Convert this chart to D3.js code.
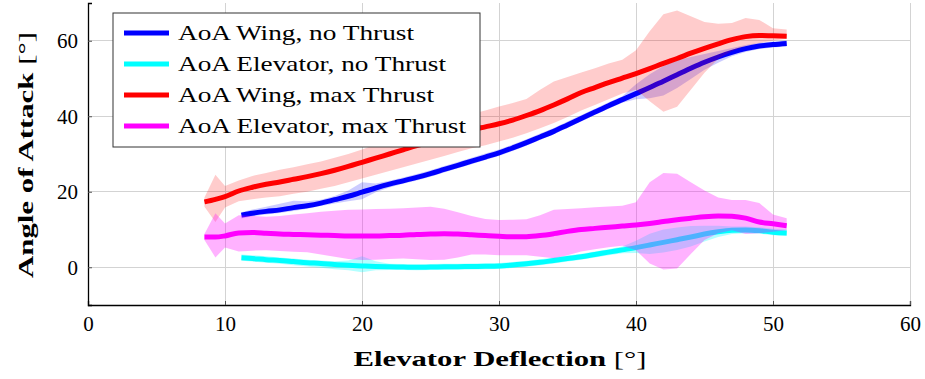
<!DOCTYPE html>
<html>
<head>
<meta charset="utf-8">
<script src="https://cdn.jsdelivr.net/npm/d3@7"></script>
<style>
  html, body { margin: 0; padding: 0; background: #fff; }
  svg { display: block; }
  text { font-family: "Liberation Serif", "Times New Roman", serif; fill: #000; }
</style>
</head>
<body>
<svg id="chart" width="925" height="379"></svg>
<script>
// Elevator deflection sample points (degrees)
const xWingMax = [8.5, 9.3, 10, 11, 12, 13, 14, 15, 16, 17, 18, 19, 20, 21, 22, 23, 24, 25, 26, 27, 28, 29, 30,
  31, 32, 33, 34, 35, 36, 37, 38, 39, 40, 41, 42, 43, 44, 45, 46, 47, 48, 49, 50, 51];
const xNoThrust = [11.2, 12, 13, 14, 15, 16, 17, 18, 19, 20, 21, 22, 23, 24, 25, 26, 27, 28, 29, 30,
  31, 32, 33, 34, 35, 36, 37, 38, 39, 40, 41, 42, 43, 44, 45, 46, 47, 48, 49, 50, 51];
const xElevMax = xWingMax;

// AoA Wing, no Thrust: mean, upper and lower envelope
const wingNo = [13.8, 14.3, 14.8, 15.2, 15.8, 16.3, 17, 17.9, 18.8, 19.9, 21, 22, 22.9, 23.8, 24.8, 25.9, 27, 28.1, 29.2, 30.3,
  31.6, 33, 34.5, 36, 37.7, 39.4, 41.1, 42.8, 44.4, 46, 47.6, 49.3, 51, 52.7, 54.3, 55.7, 56.9, 57.9, 58.6, 59, 59.3];
const wingNoHi = [14.6, 15.3, 16.0, 16.8, 17.6, 17.5, 17.9, 18.9, 20.3, 22.5, 22.2, 22.9, 23.8, 24.7, 25.7, 26.8, 27.9, 29.0, 30.1, 31.2,
  32.5, 33.9, 35.4, 36.9, 38.6, 40.3, 42.0, 43.7, 45.3, 48.5, 51.1, 53.3, 54.8, 55.7, 56.5, 57.3, 58.1, 58.9, 59.5, 59.8, 60.1];
const wingNoLo = [12.9, 13.5, 14.0, 14.4, 14.9, 15.5, 16.2, 16.9, 17.5, 18.0, 19.9, 21.1, 22.1, 23.0, 24.0, 25.1, 26.2, 27.3, 28.4, 29.5,
  30.8, 32.2, 33.7, 35.2, 36.9, 38.6, 40.3, 42.0, 43.6, 44.5, 44.8, 45.5, 47.5, 49.9, 52.3, 54.2, 55.9, 57.0, 57.8, 58.2, 58.5];

// AoA Elevator, no Thrust
const elevNo = [2.5, 2.3, 2.0, 1.8, 1.5, 1.2, 1.0, 0.7, 0.5, 0.35, 0.2, 0.1, 0.05, 0.0, 0.05, 0.1, 0.15, 0.2, 0.25, 0.35,
  0.6, 0.9, 1.3, 1.8, 2.3, 2.8, 3.4, 4.0, 4.6, 5.2, 5.9, 6.6, 7.3, 8.0, 8.8, 9.4, 9.8, 9.9, 9.7, 9.3, 9.1];
const elevNoHi = [3.4, 3.2, 2.9, 2.6, 2.3, 2.0, 1.8, 1.6, 1.8, 2.9, 1.6, 0.9, 0.85, 0.8, 0.85, 0.9, 0.95, 1.0, 1.05, 1.15,
  1.4, 1.7, 2.1, 2.6, 3.1, 3.6, 4.2, 4.8, 5.5, 7.0, 8.9, 10.0, 10.5, 10.9, 11.0, 11.0, 10.8, 10.8, 10.6, 10.2, 10.0];
const elevNoLo = [1.7, 1.5, 1.2, 0.9, 0.5, 0.2, -0.1, -0.5, -0.8, -1.3, -0.8, -0.7, -0.75, -0.8, -0.75, -0.7, -0.65, -0.6, -0.55, -0.45,
  -0.2, 0.1, 0.5, 1.0, 1.5, 2.0, 2.6, 3.2, 3.7, 3.8, 3.5, 3.9, 4.6, 5.5, 6.8, 8.0, 8.8, 9.0, 8.9, 8.5, 8.3];

// AoA Wing, max Thrust
const wingMax = [17.3, 18.0, 18.7, 20.2, 21.2, 22, 22.6, 23.3, 24, 24.8, 25.7, 26.7, 27.8, 28.9, 30, 31.1, 32.2, 33.2, 34.2, 35.3, 36.4, 37.2, 38,
  39, 40.2, 41.5, 43, 44.6, 46.3, 47.6, 48.9, 50.1, 51.3, 52.6, 54, 55.3, 56.7, 58, 59.2, 60.3, 61.1, 61.4, 61.3, 61.2];
const wingMaxHi = [18.5, 24.5, 21.5, 23, 24.2, 25, 25.8, 26.5, 27.3, 28, 29, 30, 31.2, 32.5, 33.8, 35, 36.2, 37.3, 38.5, 39.5, 40.6, 41.5, 42.6,
  43.5, 44.6, 47, 49.2, 50.4, 51.6, 52.7, 54, 55, 57.5, 62.5, 67, 68, 66.5, 65, 64.5, 64.7, 66, 65.5, 63.3, 63];
const wingMaxLo = [16, 12, 15.8, 17.5, 18, 18.5, 18.8, 19.5, 20, 20.8, 21.5, 22.5, 23.5, 24.5, 25.5, 26.5, 27.5, 28.5, 29.5, 30.5, 31.5, 32.3, 33.3,
  34.3, 35.5, 36.8, 38.2, 39.8, 41.5, 43, 44.5, 46, 47, 44, 41.2, 42.5, 47, 51.5, 55.2, 57.3, 58.6, 59.4, 60, 60.5];

// AoA Elevator, max Thrust
const elevMax = [8.0, 8.0, 8.3, 9.1, 9.2, 9.0, 8.8, 8.7, 8.6, 8.5, 8.4, 8.3, 8.3, 8.3, 8.4, 8.5, 8.7, 8.8, 8.9, 8.8, 8.6, 8.4, 8.2,
  8.05, 8.1, 8.4, 8.9, 9.5, 10.0, 10.3, 10.6, 10.9, 11.2, 11.6, 12.1, 12.6, 13.0, 13.4, 13.6, 13.5, 13.0, 12.0, 11.5, 11.0];
const elevMaxHi = [8.8, 14.3, 11.6, 13.8, 13.6, 13.4, 13.6, 14.0, 14.3, 14.7, 15.0, 15.2, 15.3, 15.4, 15.5, 15.6, 15.8, 16.0, 15.5, 14.6, 13.6, 12.8, 12.5,
  12.6, 12.7, 13.8, 15.2, 15.4, 15.6, 15.9, 16.1, 16.3, 17.2, 22.5, 25.0, 24.8, 22.5, 20.3, 18.5, 17.8, 17.8, 17.0, 14.0, 13.0];
const elevMaxLo = [7.2, 2.6, 5.2, 4.2, 4.4, 4.5, 4.3, 4.1, 4.0, 3.4, 2.8, 2.2, 1.9, 2.0, 2.2, 2.3, 2.1, 1.9, 2.0, 2.6, 3.4, 3.4, 3.2,
  3.2, 3.2, 2.8, 2.4, 3.2, 4.2, 4.8, 5.3, 5.7, 4.5, 1.0, -0.6, -0.3, 3.5, 7.2, 9.0, 9.8, 8.8, 9.0, 9.4, 9.8];

const xTicks = [0, 10, 20, 30, 40, 50, 60];
const yTicks = [0, 20, 40, 60];
const legendLabels = ["AoA Wing, no Thrust", "AoA Elevator, no Thrust", "AoA Wing, max Thrust", "AoA Elevator, max Thrust"];

// Series in drawing order (band first, then its mean line)
const series = [
  { name: legendLabels[0], color: "#0000ff", bandOpacity: 0.2, xs: xNoThrust, mean: wingNo, hi: wingNoHi, lo: wingNoLo },
  { name: legendLabels[1], color: "#00ffff", bandOpacity: 0.3, xs: xNoThrust, mean: elevNo, hi: elevNoHi, lo: elevNoLo },
  { name: legendLabels[2], color: "#ff0000", bandOpacity: 0.2, xs: xWingMax, mean: wingMax, hi: wingMaxHi, lo: wingMaxLo },
  { name: legendLabels[3], color: "#ff00ff", bandOpacity: 0.3, xs: xElevMax, mean: elevMax, hi: elevMaxHi, lo: elevMaxLo }
];

const W = 925, H = 379;
const margin = { left: 88, right: 15, top: 3, bottom: 74 };
const svg = d3.select("#chart");

const x = d3.scaleLinear().domain([0, 60]).range([margin.left, W - margin.right]);
const y = d3.scaleLinear().domain([-10, 70]).range([H - margin.bottom, margin.top]);

// grid
const grid = svg.append("g").attr("stroke", "#d3d3d3").attr("stroke-width", 1).attr("shape-rendering", "crispEdges");
grid.selectAll("line.vx").data(xTicks.filter(d => d > 0)).join("line")
  .attr("x1", d => x(d)).attr("x2", d => x(d))
  .attr("y1", y(-10)).attr("y2", y(70));
grid.selectAll("line.hy").data(yTicks).join("line")
  .attr("x1", x(0)).attr("x2", x(60))
  .attr("y1", d => y(d)).attr("y2", d => y(d));

// bands and mean lines
const plot = svg.append("g");
series.forEach(s => {
  const pts = s.xs.map((v, i) => ({ x: v, m: s.mean[i], hi: s.hi[i], lo: s.lo[i] }));
  plot.append("path")
    .datum(pts)
    .attr("fill", s.color)
    .attr("fill-opacity", s.bandOpacity)
    .attr("stroke", "none")
    .attr("d", d3.area().x(d => x(d.x)).y0(d => y(d.lo)).y1(d => y(d.hi)));
  plot.append("path")
    .datum(pts)
    .attr("fill", "none")
    .attr("stroke", s.color)
    .attr("stroke-width", 5)
    .attr("stroke-linejoin", "round")
    .attr("d", d3.line().curve(d3.curveMonotoneX).x(d => x(d.x)).y(d => y(d.m)));
});

// axes
const xAxis = svg.append("g")
  .attr("transform", `translate(0,${y(-10)})`)
  .call(d3.axisBottom(x).tickValues(xTicks).tickSize(-4).tickPadding(10).tickFormat(d3.format("d")));
const yAxis = svg.append("g")
  .attr("transform", `translate(${x(0)},0)`)
  .call(d3.axisLeft(y).tickValues(yTicks).tickSize(-4).tickPadding(10).tickFormat(d3.format("d")));
[xAxis, yAxis].forEach(a => {
  a.select(".domain").attr("stroke", "#000").attr("stroke-width", 1.3);
  a.selectAll(".tick line").attr("stroke", "#555").attr("stroke-width", 1);
  a.selectAll(".tick text").attr("font-family", "Liberation Serif, serif").attr("font-size", 21).attr("fill", "#000");
});
xAxis.selectAll(".tick text").attr("dy", "0.75em");
yAxis.selectAll(".tick text").attr("dy", "0.34em");

// axis titles
function stretched(sel, width) {
  const natural = sel.node().getComputedTextLength();
  if (natural > 0) sel.attr("textLength", width).attr("lengthAdjust", "spacingAndGlyphs");
}
const xTitle = svg.append("text")
  .attr("x", (x(0) + x(60)) / 2 + 1).attr("y", 366)
  .attr("text-anchor", "middle").attr("font-size", 22).attr("font-weight", "bold");
xTitle.append("tspan").text("Elevator Deflection ");
xTitle.append("tspan").attr("font-weight", "normal").text("[°]");
stretched(xTitle, 293);

const yTitle = svg.append("text")
  .attr("transform", `translate(33,${155}) rotate(-90)`)
  .attr("text-anchor", "middle").attr("font-size", 22).attr("font-weight", "bold");
yTitle.append("tspan").text("Angle of Attack ");
yTitle.append("tspan").attr("font-weight", "normal").text("[°]");
stretched(yTitle, 246);

// legend
const lg = svg.append("g").attr("transform", "translate(113,13)");
lg.append("rect").attr("width", 367).attr("height", 134)
  .attr("fill", "#fff").attr("stroke", "#333").attr("stroke-width", 1);
const legendWidths = [236, 268, 256, 288];
series.forEach((s, i) => {
  const cy = 20 + i * 31;
  lg.append("line").attr("x1", 11).attr("x2", 56).attr("y1", cy).attr("y2", cy)
    .attr("stroke", s.color).attr("stroke-width", 5);
  const t = lg.append("text").attr("x", 65).attr("y", cy + 7).attr("font-size", 22).text(s.name);
  stretched(t, legendWidths[i]);
});
</script>
</body>
</html>
